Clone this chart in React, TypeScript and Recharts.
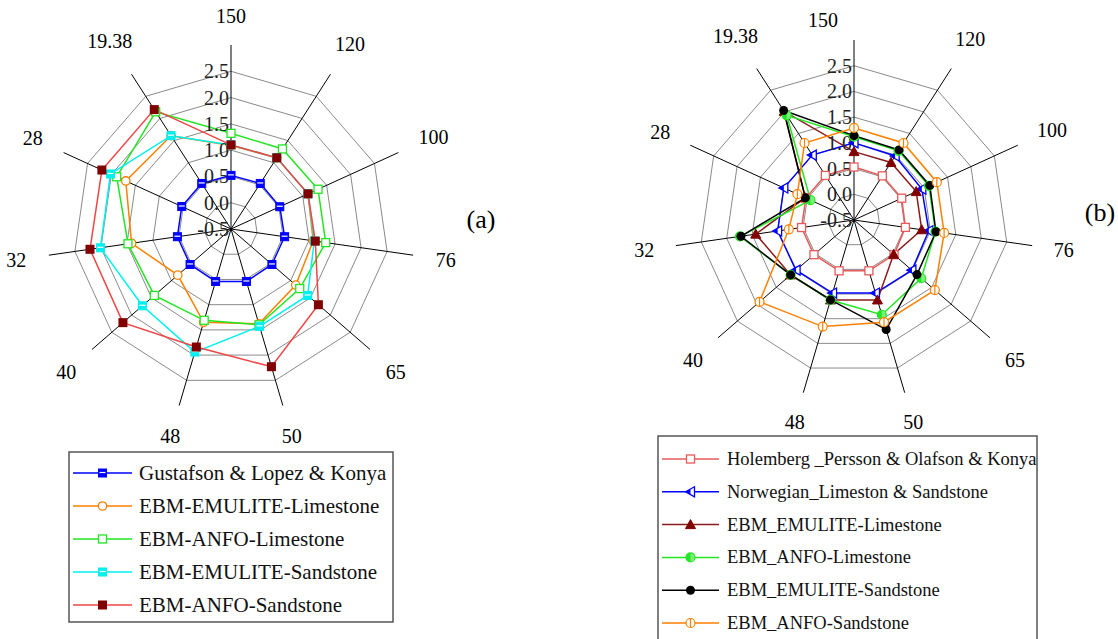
import React from "react";
import { PolarAngleAxis, PolarGrid, PolarRadiusAxis, Radar, RadarChart } from "recharts";

const FONT = "Liberation Serif, Times New Roman, serif";

const categories = ["150", "120", "100", "76", "65", "50", "48", "40", "32", "28", "19.38"];
const radiusTicks = [-0.5, 0, 0.5, 1, 1.5, 2, 2.5];

// chart (a)
const gustafson = [0.52, 0.53, 0.52, 0.53, 0.53, 0.54, 0.54, 0.53, 0.53, 0.53, 0.53];
const emuliteLimeA = [1.09, 1.11, 1.11, 1.08, 1.13, 1.38, 1.35, 0.84, 1.41, 1.7, 1.61];
const anfoLimeA = [1.32, 1.31, 1.32, 1.32, 1.23, 1.4, 1.31, 1.43, 1.48, 1.89, 2.15];
const emuliteSandA = [1.1, 1.11, 1.11, 1.1, 1.43, 1.43, 1.94, 1.73, 2.01, 2.02, 1.61];
const anfoSandA = [1.1, 1.11, 1.11, 1.12, 1.7, 2.23, 1.84, 2.22, 2.21, 2.2, 2.2];

// chart (b)
const holemberg = [0.53, 0.52, 0.52, 0.51, 0.53, 0.53, 0.53, 0.53, 0.53, 0.53, 0.53];
const norwegian = [1.0, 0.98, 0.95, 0.97, 0.99, 0.98, 0.98, 0.99, 1.0, 1.0, 1.0];
const emuliteLimeB = [0.83, 0.83, 0.83, 0.83, 0.52, 1.12, 1.12, 1.13, 1.43, 0.54, 2.01];
const anfoLimeB = [1.12, 1.1, 1.1, 1.1, 1.23, 1.42, 1.12, 1.13, 1.74, 0.43, 1.92];
const emuliteSandB = [1.14, 1.12, 1.12, 1.11, 1.12, 1.72, 1.12, 1.13, 1.72, 0.54, 2.03];
const anfoSandB = [1.29, 1.28, 1.27, 1.27, 1.58, 1.57, 1.66, 1.93, 0.78, 0.71, 1.28];

type Kind =
  | "bandSquare"
  | "openSquare"
  | "openCircle"
  | "solidSquare"
  | "triLeft"
  | "triUp"
  | "halfCircle"
  | "solidCircle"
  | "barCircle";

type Series = {
  key: string;
  name: string;
  values: number[];
  line: string;
  mark: string;
  kind: Kind;
};

const seriesA: Series[] = [
  { key: "g", name: "Gustafson & Lopez & Konya", values: gustafson, line: "#0000ff", mark: "#0000ff", kind: "bandSquare" },
  { key: "el", name: "EBM-EMULITE-Limestone", values: emuliteLimeA, line: "#ff8000", mark: "#ff8000", kind: "openCircle" },
  { key: "al", name: "EBM-ANFO-Limestone", values: anfoLimeA, line: "#22e622", mark: "#22e622", kind: "openSquare" },
  { key: "es", name: "EBM-EMULITE-Sandstone", values: emuliteSandA, line: "#00f0f0", mark: "#00f0f0", kind: "bandSquare" },
  { key: "as", name: "EBM-ANFO-Sandstone", values: anfoSandA, line: "#f04545", mark: "#800000", kind: "solidSquare" },
];

const seriesB: Series[] = [
  { key: "h", name: "Holemberg _Persson & Olafson & Konya", values: holemberg, line: "#e85a5a", mark: "#e85a5a", kind: "openSquare" },
  { key: "n", name: "Norwegian_Limeston & Sandstone", values: norwegian, line: "#0000ff", mark: "#0000ff", kind: "triLeft" },
  { key: "el", name: "EBM_EMULITE-Limestone", values: emuliteLimeB, line: "#8b1a1a", mark: "#800000", kind: "triUp" },
  { key: "al", name: "EBM_ANFO-Limestone", values: anfoLimeB, line: "#22e622", mark: "#22e622", kind: "halfCircle" },
  { key: "es", name: "EBM_EMULITE-Sandstone", values: emuliteSandB, line: "#000000", mark: "#000000", kind: "solidCircle" },
  { key: "as", name: "EBM_ANFO-Sandstone", values: anfoSandB, line: "#ff8000", mark: "#ff8000", kind: "barCircle" },
];

function Marker({ kind, color, x, y }: { kind: Kind; color: string; x: number; y: number }) {
  switch (kind) {
    case "bandSquare":
      return (
        <g>
          <rect x={x - 4} y={y - 4} width={8} height={8} fill={color} stroke={color} strokeWidth={1} />
          <line x1={x - 3} x2={x + 3} y1={y - 0.5} y2={y - 0.5} stroke="#fff" strokeWidth={1.2} />
        </g>
      );
    case "openSquare":
      return <rect x={x - 4} y={y - 4} width={8} height={8} fill="#fff" stroke={color} strokeWidth={1.3} />;
    case "openCircle":
      return <circle cx={x} cy={y} r={4.2} fill="#fff" stroke={color} strokeWidth={1.3} />;
    case "solidSquare":
      return <rect x={x - 4.5} y={y - 4.5} width={9} height={9} fill={color} />;
    case "triLeft":
      return (
        <g>
          <polygon points={`${x - 5},${y} ${x + 4},${y - 5} ${x + 4},${y + 5}`} fill="#fff" stroke={color} strokeWidth={1.3} />
          <polygon points={`${x - 5},${y} ${x},${y - 2.8} ${x},${y + 2.8}`} fill={color} />
        </g>
      );
    case "triUp":
      return <polygon points={`${x},${y - 5} ${x + 5},${y + 4} ${x - 5},${y + 4}`} fill={color} stroke={color} strokeWidth={1} />;
    case "halfCircle":
      return (
        <g>
          <circle cx={x} cy={y} r={4.5} fill="#fff" stroke={color} strokeWidth={1.2} />
          <path d={`M ${x} ${y - 4.5} A 4.5 4.5 0 0 0 ${x} ${y + 4.5} Z`} fill={color} />
          <circle cx={x} cy={y} r={4.5} fill={color} fillOpacity={0.6} stroke="none" />
        </g>
      );
    case "solidCircle":
      return <circle cx={x} cy={y} r={4.5} fill={color} />;
    case "barCircle":
      return (
        <g>
          <circle cx={x} cy={y} r={4.5} fill="#fff" stroke={color} strokeWidth={1.2} />
          <line x1={x} x2={x} y1={y - 4.5} y2={y + 4.5} stroke={color} strokeWidth={1.2} />
        </g>
      );
  }
  return null;
}

const LABEL_SIZE = 20;

// rough half-width of a numeric label in a Times-like face
function halfWidth(s: string) {
  let w = 0;
  for (const ch of s) w += ch === "." ? 0.25 : 0.5;
  return (w * LABEL_SIZE) / 2;
}

type SpiderProps = {
  series: Series[];
  width: number;
  height: number;
  cx: number;
  cy: number;
  radius: number;
  labelGap: number;
  firstShift: [number, number];
};

function Spider({ series, width, height, cx, cy, radius, labelGap, firstShift }: SpiderProps) {
  const rows = categories.map((cat, i) => {
    const row: Record<string, string | number> = { cat };
    series.forEach((s) => {
      row[s.key] = s.values[i];
    });
    return row;
  });

  return (
    <RadarChart
      width={width}
      height={height}
      data={rows}
      cx={cx}
      cy={cy}
      outerRadius={radius}
      innerRadius={0}
      startAngle={90}
      endAngle={-270}
      margin={{ top: 0, right: 0, bottom: 0, left: 0 }}
    >
      <PolarGrid gridType="polygon" radialLines={false} stroke="#8a8a8a" strokeWidth={1} />
      <PolarGrid gridType="polygon" polarRadius={[]} stroke="#000" strokeWidth={1} />
      <PolarAngleAxis
        dataKey="cat"
        axisLine={false}
        tickLine={false}
        tickSize={labelGap}
        tick={(p: any) => {
          const label = String(p.payload.value);
          const a = (p.payload.coordinate * Math.PI) / 180;
          const ux = Math.cos(a);
          const uy = -Math.sin(a);
          const push = Math.abs(ux) * halfWidth(label) + Math.abs(uy) * 7;
          let x = p.x + ux * push;
          let y = p.y + uy * push;
          if (p.index === 0) {
            x += firstShift[0];
            y += firstShift[1];
          }
          return (
            <text
              x={x}
              y={y}
              textAnchor="middle"
              dominantBaseline="central"
              style={{ fontFamily: FONT }}
              fontSize={LABEL_SIZE}
              fill="#000"
            >
              {label}
            </text>
          );
        }}
      />
      <PolarRadiusAxis
        angle={90}
        type="number"
        domain={[-0.5, 2.5]}
        ticks={radiusTicks}
        axisLine={false}
        tickLine={false}
        tick={(p: any) => (
          <text
            x={p.x - 2}
            y={p.y}
            textAnchor="end"
            dominantBaseline="central"
            style={{ fontFamily: FONT }}
            fontSize={LABEL_SIZE}
            fill="#222"
          >
            {Number(p.payload.value).toFixed(1)}
          </text>
        )}
      />
      {series.map((s) => (
        <Radar
          key={s.key}
          dataKey={s.key}
          name={s.name}
          stroke={s.line}
          strokeWidth={1.5}
          fill="none"
          fillOpacity={0}
          isAnimationActive={false}
          dot={(p: any) => <Marker key={`${s.key}-${p.index}`} kind={s.kind} color={s.mark} x={p.cx} y={p.cy} />}
        />
      ))}
    </RadarChart>
  );
}

type LegendProps = {
  series: Series[];
  left: number;
  top: number;
  width: number;
  height: number;
  firstRow: number;
  rowGap: number;
  fontSize: number;
  lineEnd: number;
  textX: number;
};

function LegendBox({ series, left, top, width, height, firstRow, rowGap, fontSize, lineEnd, textX }: LegendProps) {
  return (
    <svg width={width + 2} height={height + 2} style={{ position: "absolute", left: left - 1, top: top - 1 }}>
      <rect x={1} y={1} width={width} height={height} fill="#fff" stroke="#555" strokeWidth={1.5} />
      {series.map((s, i) => {
        const y = firstRow + i * rowGap + 1;
        return (
          <g key={s.key}>
            <line x1={5} x2={lineEnd} y1={y} y2={y} stroke={s.line} strokeWidth={1.5} />
            <Marker kind={s.kind} color={s.mark} x={(5 + lineEnd) / 2} y={y} />
            <text
              x={textX}
              y={y}
              dominantBaseline="central"
              style={{ fontFamily: FONT }}
              fontSize={fontSize}
              fill="#111"
            >
              {s.name}
            </text>
          </g>
        );
      })}
    </svg>
  );
}

export default function App() {
  return (
    <div
      style={{
        position: "relative",
        width: 1118,
        height: 639,
        overflow: "hidden",
        background: "#fff",
        fontFamily: FONT,
      }}
    >
      <style>{"html, body { margin: 0; padding: 0; overflow: hidden; }"}</style>
      <div style={{ position: "absolute", left: 0, top: 0 }}>
        <Spider series={seriesA} width={480} height={450} cx={231} cy={229} radius={184} labelGap={22} firstShift={[0, 0]} />
      </div>
      <div style={{ position: "absolute", left: 600, top: 0 }}>
        <Spider series={seriesB} width={518} height={440} cx={254} cy={220} radius={180} labelGap={21} firstShift={[-31, 8]} />
      </div>
      <div style={{ position: "absolute", left: 481, top: 220, transform: "translate(-50%, -50%)", fontSize: 26, lineHeight: 1 }}>
        (a)
      </div>
      <div style={{ position: "absolute", left: 1100, top: 213, transform: "translate(-50%, -50%)", fontSize: 26, lineHeight: 1 }}>
        (b)
      </div>
      <LegendBox
        series={seriesA}
        left={69}
        top={452}
        width={324}
        height={170}
        firstRow={21}
        rowGap={33}
        fontSize={21}
        lineEnd={64}
        textX={71}
      />
      <LegendBox
        series={seriesB}
        left={658}
        top={436}
        width={379}
        height={215}
        firstRow={23}
        rowGap={32.8}
        fontSize={18.5}
        lineEnd={62}
        textX={70}
      />
    </div>
  );
}
